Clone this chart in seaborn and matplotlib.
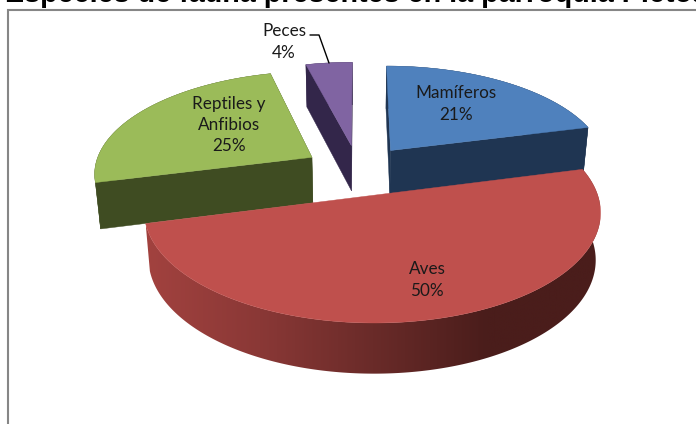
import numpy as np
import matplotlib
matplotlib.use('Agg')
import matplotlib.pyplot as plt
from matplotlib.colors import LinearSegmentedColormap
from matplotlib.patches import Polygon
import seaborn as sns

categories = ['Mamíferos', 'Aves', 'Reptiles y\nAnfibios', 'Peces']
values = [21, 50, 25, 4]
top_colors = ['#4F81BD', '#BF504D', '#9BBB59', '#8064A2']
side_colors = ['#1F3552', '#4A1D1B', '#3F4C22', '#33264A']
title_text = 'Especies de fauna presentes en la parroquia Pictoa'

sns.set_theme(style='white')
plt.rcParams['font.family'] = ['Lato', 'DejaVu Sans']

# camera of the fake 3d pie, all in pixels of the 696x424 picture
cx, cy = 358, 170
scale_x, scale_y = 218, 101.5
persp = 0.1416
depth = 46
explode = 0.25


def project(xs, ys, z=0):
    w = 1 + persp * ys
    px = cx + scale_x * xs / w
    py = cy - scale_y * ys / w
    if z:
        px = cx + (px - cx) * 0.98
        py = py + depth * z / np.sqrt(w)
    return px, py


fig = plt.figure(figsize=(6.96, 4.24), dpi=100)
ax = fig.add_axes([0, 0, 1, 1])
ax.axis('off')

rim_cmap = LinearSegmentedColormap.from_list('rim', ['#A2423F', '#8A3836', '#6A2B29', '#4A1D1B', '#4A1D1B'])

#turn the values into start and end angles, clockwise from 12 o'clock
ends = np.cumsum(values) / np.sum(values) * 2 * np.pi
starts = ends - np.array(values) / np.sum(values) * 2 * np.pi

#back to front: fish, reptiles, mammals, birds
for i in [3, 2, 0, 1]:
    mid = (starts[i] + ends[i]) / 2
    ox, oy = explode * np.sin(mid), explode * np.cos(mid)
    t = np.linspace(starts[i], ends[i], 200)
    xs, ys = ox + np.sin(t), oy + np.cos(t)

    #rim
    tx, ty = project(xs, ys)
    bx, by = project(xs, ys, 1)
    rim = np.c_[np.r_[tx, bx[::-1]], np.r_[ty, by[::-1]]]
    if i == 1:
        #birds rim goes from light on the left to dark on the right
        patch = Polygon(rim, closed=True, facecolor='none', edgecolor='none')
        ax.add_patch(patch)
        img = ax.imshow(np.linspace(0, 1, 256)[None, :], cmap=rim_cmap, aspect='auto',
                        extent=[bx.min() - 4, bx.max() + 4, by.max() + 4, ty.min() - 4], zorder=1)
        img.set_clip_path(patch)
    else:
        ax.fill(rim[:, 0], rim[:, 1], color=side_colors[i], lw=0.3, zorder=1)

    #radial faces, the big front slice hides its own
    if i != 1:
        for end_x, end_y in [(xs[0], ys[0]), (xs[-1], ys[-1])]:
            rx = np.array([ox, end_x])
            ry = np.array([oy, end_y])
            ax_t, ay_t = project(rx, ry)
            ax_b, ay_b = project(rx, ry, 1)
            ax.fill([ax_t[0], ax_t[1], ax_b[1], ax_b[0]], [ay_t[0], ay_t[1], ay_b[1], ay_b[0]], color=side_colors[i], lw=0.3, zorder=1)

    #top face
    fx, fy = project(np.r_[ox, xs], np.r_[oy, ys])
    ax.fill(fx, fy, color=top_colors[i], lw=0.3, zorder=1)

ax.set_xlim(0, 696)
ax.set_ylim(424, 0)

#chart frame, right and bottom sides run off the picture
ax.plot([8, 8, 700], [430, 10, 10], color='#868686', lw=1.5, zorder=0, solid_joinstyle='miter')

#title is cut by the top of the picture
ax.text(5, 2.5, title_text, family=['Liberation Sans'], weight='bold', fontsize=20.7, color='black', ha='left', va='baseline')

label_pos = [(456, 104), (427, 280), (229, 125), (284, 42)]
for name, val, (lx, ly) in zip(categories, values, label_pos):
    ax.text(lx, ly, f'{name}\n{val}%', ha='center', va='center', fontsize=12.3, color='#1A1A1A', linespacing=1.42, zorder=3)

#leader line for fish
ax.plot([310, 319, 329], [35, 35, 63], color='black', lw=1, zorder=3)

fig.savefig('out.png', dpi=100)
